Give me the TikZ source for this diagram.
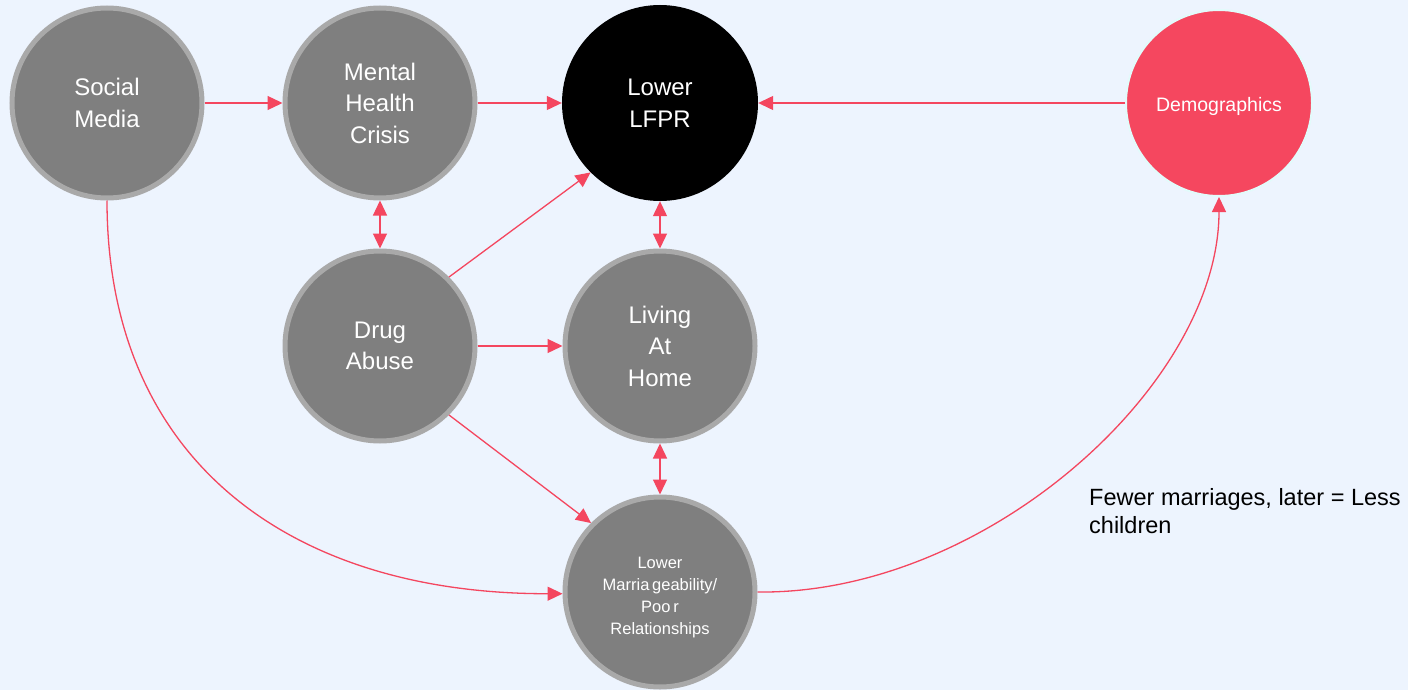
\documentclass[tikz,border=0pt]{standalone}
\usepackage{fontspec}
\setmainfont{Liberation Sans}
\usetikzlibrary{arrows.meta}
\definecolor{bgc}{HTML}{EDF4FE}
\definecolor{arr}{HTML}{F4465F}
\definecolor{ringc}{HTML}{A9A9A9}
\definecolor{fillc}{HTML}{7F7F7F}
\definecolor{democ}{HTML}{F5475F}
\definecolor{demoring}{HTML}{E2FBFB}
\tikzset{
  gnode/.style={circle, draw=ringc, fill=fillc, line width=5pt, minimum size=190pt, inner sep=0pt,
    text=white, align=center, font=\fontsize{24}{31.5}\selectfont},
  smalltxt/.style={text=white, align=center, inner sep=0pt, font=\fontsize{16.5}{22}\selectfont},
  conn/.style={draw=arr, line width=1.3pt, -{Triangle[length=15pt,width=14pt]}},
  dconn/.style={draw=arr, line width=1.3pt, {Triangle[length=15pt,width=14pt]}-{Triangle[length=15pt,width=14pt]}},
}
\begin{document}
\begin{tikzpicture}[x=1pt,y=-1pt]
\fill[bgc] (0,0) rectangle (1408,690);
\useasboundingbox (0,0) rectangle (1408,690);

\node[gnode] (sm) at (107,103) {Social\\Media};
\node[gnode] (mh) at (380,103) {Mental\\Health\\Crisis};
\node[circle, fill=black, minimum size=196pt, inner sep=0pt, text=white, align=center,
      font=\fontsize{24}{31.5}\selectfont] (lf) at (660,103) {Lower\\LFPR};
\node[circle, draw=demoring, fill=democ, line width=2pt, minimum size=186pt, inner sep=0pt] (dm) at (1219,103) {};
\node[text=white, inner sep=0pt, font=\fontsize{19.5}{24}\selectfont] (dmt) at (1219,106) {Demographics};
\node[gnode] (da) at (380,346) {Drug\\Abuse};
\node[gnode] (lh) at (660,346) {Living\\At\\Home};
\node[gnode] (lm) at (660,592) {};
\node[smalltxt] (lmt) at (660,598) {Lower\\Marria\,geability/\\Poo\,r\\Relationships};

\node[anchor=north west, align=left, font=\fontsize{23.5}{28}\selectfont, inner sep=0pt] (lbl) at (1089,488)
  {Fewer marriages, later = Less\\children};

\draw[conn] (sm.east) -- (mh.west);
\draw[conn] (mh.east) -- (lf.west);
\draw[conn] (dm.west) -- (lf.east);
\draw[dconn] (mh.south) -- (da.north);
\draw[dconn] (lf.south) -- (lh.north);
\draw[dconn] (lh.south) -- (lm.north);
\draw[conn] (da.east) -- (lh.west);
\draw[conn] (da.45) -- (lf.225);
\draw[conn] (da.-45) -- (lm.135);
\draw[conn] (sm.south) .. controls (107,460) and (290,594) .. (lm.181);
\draw[conn] (lm.east) .. controls (985,595) and (1219,385) .. (dm.south);
\end{tikzpicture}
\end{document}
